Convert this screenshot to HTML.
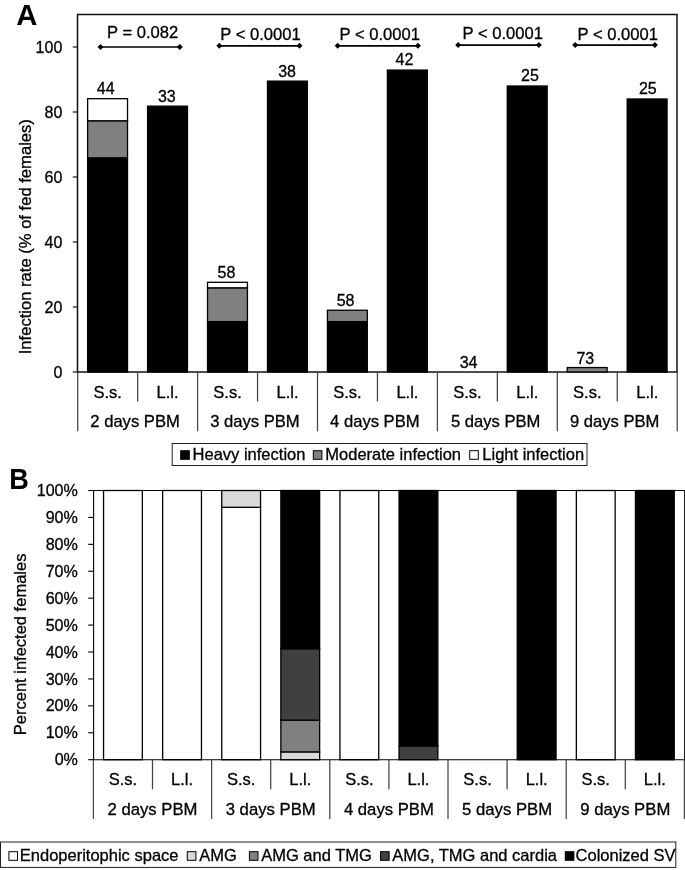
<!DOCTYPE html>
<html lang="en"><head><meta charset="utf-8"><title>Figure</title>
<style>html,body{margin:0;padding:0;background:#fff}svg{display:block}</style>
</head><body>
<svg width="685" height="870" viewBox="0 0 685 870" font-family='"Liberation Sans", Arial, Helvetica, sans-serif' fill="#000">
<rect x="0" y="0" width="685" height="870" fill="#fff"/>
<text x="16.20" y="24.60" font-size="29.3" text-anchor="start" font-weight="bold" stroke="#000" stroke-width="0" >A</text>
<rect x="77.50" y="14.50" width="599.50" height="357.50" fill="none" stroke="#111" stroke-width="1.5"/>
<line x1="72.80" y1="372.00" x2="77.50" y2="372.00" stroke="#000" stroke-width="1.1" />
<text x="62.30" y="377.70" font-size="16" text-anchor="end" font-weight="normal" stroke="#000" stroke-width="0.3" >0</text>
<line x1="72.80" y1="307.00" x2="77.50" y2="307.00" stroke="#000" stroke-width="1.1" />
<text x="62.30" y="312.70" font-size="16" text-anchor="end" font-weight="normal" stroke="#000" stroke-width="0.3" >20</text>
<line x1="72.80" y1="242.00" x2="77.50" y2="242.00" stroke="#000" stroke-width="1.1" />
<text x="62.30" y="247.70" font-size="16" text-anchor="end" font-weight="normal" stroke="#000" stroke-width="0.3" >40</text>
<line x1="72.80" y1="177.00" x2="77.50" y2="177.00" stroke="#000" stroke-width="1.1" />
<text x="62.30" y="182.70" font-size="16" text-anchor="end" font-weight="normal" stroke="#000" stroke-width="0.3" >60</text>
<line x1="72.80" y1="112.00" x2="77.50" y2="112.00" stroke="#000" stroke-width="1.1" />
<text x="62.30" y="117.70" font-size="16" text-anchor="end" font-weight="normal" stroke="#000" stroke-width="0.3" >80</text>
<line x1="72.80" y1="47.00" x2="77.50" y2="47.00" stroke="#000" stroke-width="1.1" />
<text x="62.30" y="52.70" font-size="16" text-anchor="end" font-weight="normal" stroke="#000" stroke-width="0.3" >100</text>
<text x="0.00" y="0.00" font-size="16.6" text-anchor="start" font-weight="normal" stroke="#000" stroke-width="0.3" transform="translate(31,354.3) rotate(-90)">Infection rate (% of fed females)</text>
<rect x="87.62" y="157.82" width="39.90" height="214.18" fill="#000" stroke="#000" stroke-width="1.3"/>
<rect x="87.62" y="120.78" width="39.90" height="37.05" fill="#808080" stroke="#000" stroke-width="1.3"/>
<rect x="87.62" y="98.68" width="39.90" height="22.10" fill="#fff" stroke="#000" stroke-width="1.3"/>
<text x="105.67" y="94.08" font-size="16" text-anchor="middle" font-weight="normal" stroke="#000" stroke-width="0.3" >44</text>
<rect x="147.58" y="106.15" width="39.90" height="265.85" fill="#000" stroke="#000" stroke-width="1.3"/>
<text x="166.83" y="101.55" font-size="16" text-anchor="middle" font-weight="normal" stroke="#000" stroke-width="0.3" >33</text>
<rect x="207.53" y="321.62" width="39.90" height="50.38" fill="#000" stroke="#000" stroke-width="1.3"/>
<rect x="207.53" y="287.82" width="39.90" height="33.80" fill="#808080" stroke="#000" stroke-width="1.3"/>
<rect x="207.53" y="282.30" width="39.90" height="5.52" fill="#fff" stroke="#000" stroke-width="1.3"/>
<text x="226.47" y="277.70" font-size="16" text-anchor="middle" font-weight="normal" stroke="#000" stroke-width="0.3" >58</text>
<rect x="267.47" y="81.12" width="39.90" height="290.88" fill="#000" stroke="#000" stroke-width="1.3"/>
<text x="287.07" y="76.53" font-size="16" text-anchor="middle" font-weight="normal" stroke="#000" stroke-width="0.3" >38</text>
<rect x="327.42" y="321.62" width="39.90" height="50.38" fill="#000" stroke="#000" stroke-width="1.3"/>
<rect x="327.42" y="310.25" width="39.90" height="11.38" fill="#808080" stroke="#000" stroke-width="1.3"/>
<text x="345.57" y="305.65" font-size="16" text-anchor="middle" font-weight="normal" stroke="#000" stroke-width="0.3" >58</text>
<rect x="387.38" y="70.07" width="39.90" height="301.93" fill="#000" stroke="#000" stroke-width="1.3"/>
<text x="404.48" y="65.47" font-size="16" text-anchor="middle" font-weight="normal" stroke="#000" stroke-width="0.3" >42</text>
<text x="468.57" y="368.30" font-size="16" text-anchor="middle" font-weight="normal" stroke="#000" stroke-width="0.3" >34</text>
<rect x="507.27" y="86.00" width="39.90" height="286.00" fill="#000" stroke="#000" stroke-width="1.3"/>
<text x="530.02" y="81.40" font-size="16" text-anchor="middle" font-weight="normal" stroke="#000" stroke-width="0.3" >25</text>
<rect x="567.23" y="367.55" width="39.90" height="4.45" fill="#808080" stroke="#000" stroke-width="1.3"/>
<text x="585.38" y="364.35" font-size="16" text-anchor="middle" font-weight="normal" stroke="#000" stroke-width="0.3" >73</text>
<rect x="627.17" y="99.00" width="39.90" height="273.00" fill="#000" stroke="#000" stroke-width="1.3"/>
<text x="647.83" y="94.40" font-size="16" text-anchor="middle" font-weight="normal" stroke="#000" stroke-width="0.3" >25</text>
<line x1="100.50" y1="47.00" x2="179.80" y2="47.00" stroke="#000" stroke-width="1.7" />
<path d="M97.50,47.00 L100.50,44.00 L103.50,47.00 L100.50,50.00Z" fill="#000"/>
<path d="M176.80,47.00 L179.80,44.00 L182.80,47.00 L179.80,50.00Z" fill="#000"/>
<text x="107.00" y="37.80" font-size="16.6" text-anchor="start" font-weight="normal" stroke="#000" stroke-width="0.3" >P = 0.082</text>
<line x1="219.30" y1="45.80" x2="299.50" y2="45.80" stroke="#000" stroke-width="1.7" />
<path d="M216.30,45.80 L219.30,42.80 L222.30,45.80 L219.30,48.80Z" fill="#000"/>
<path d="M296.50,45.80 L299.50,42.80 L302.50,45.80 L299.50,48.80Z" fill="#000"/>
<text x="220.30" y="39.60" font-size="16.6" text-anchor="start" font-weight="normal" stroke="#000" stroke-width="0.3" >P &lt; 0.0001</text>
<line x1="337.70" y1="45.80" x2="417.90" y2="45.80" stroke="#000" stroke-width="1.7" />
<path d="M334.70,45.80 L337.70,42.80 L340.70,45.80 L337.70,48.80Z" fill="#000"/>
<path d="M414.90,45.80 L417.90,42.80 L420.90,45.80 L417.90,48.80Z" fill="#000"/>
<text x="339.50" y="40.20" font-size="16.6" text-anchor="start" font-weight="normal" stroke="#000" stroke-width="0.3" >P &lt; 0.0001</text>
<line x1="458.20" y1="45.10" x2="538.80" y2="45.10" stroke="#000" stroke-width="1.7" />
<path d="M455.20,45.10 L458.20,42.10 L461.20,45.10 L458.20,48.10Z" fill="#000"/>
<path d="M535.80,45.10 L538.80,42.10 L541.80,45.10 L538.80,48.10Z" fill="#000"/>
<text x="462.60" y="38.90" font-size="16.6" text-anchor="start" font-weight="normal" stroke="#000" stroke-width="0.3" >P &lt; 0.0001</text>
<line x1="575.20" y1="45.10" x2="654.90" y2="45.10" stroke="#000" stroke-width="1.7" />
<path d="M572.20,45.10 L575.20,42.10 L578.20,45.10 L575.20,48.10Z" fill="#000"/>
<path d="M651.90,45.10 L654.90,42.10 L657.90,45.10 L654.90,48.10Z" fill="#000"/>
<text x="577.60" y="40.20" font-size="16.6" text-anchor="start" font-weight="normal" stroke="#000" stroke-width="0.3" >P &lt; 0.0001</text>
<line x1="77.70" y1="372.00" x2="77.70" y2="431.30" stroke="#444" stroke-width="1.25" />
<line x1="137.65" y1="372.00" x2="137.65" y2="401.50" stroke="#444" stroke-width="1.25" />
<line x1="197.60" y1="372.00" x2="197.60" y2="431.30" stroke="#444" stroke-width="1.25" />
<line x1="257.55" y1="372.00" x2="257.55" y2="401.50" stroke="#444" stroke-width="1.25" />
<line x1="317.50" y1="372.00" x2="317.50" y2="431.30" stroke="#444" stroke-width="1.25" />
<line x1="377.45" y1="372.00" x2="377.45" y2="401.50" stroke="#444" stroke-width="1.25" />
<line x1="437.40" y1="372.00" x2="437.40" y2="431.30" stroke="#444" stroke-width="1.25" />
<line x1="497.35" y1="372.00" x2="497.35" y2="401.50" stroke="#444" stroke-width="1.25" />
<line x1="557.30" y1="372.00" x2="557.30" y2="431.30" stroke="#444" stroke-width="1.25" />
<line x1="617.25" y1="372.00" x2="617.25" y2="401.50" stroke="#444" stroke-width="1.25" />
<line x1="677.20" y1="372.00" x2="677.20" y2="431.30" stroke="#444" stroke-width="1.25" />
<text x="107.67" y="397.60" font-size="16.5" text-anchor="middle" font-weight="normal" stroke="#000" stroke-width="0.3" >S.s.</text>
<text x="167.62" y="397.60" font-size="16.5" text-anchor="middle" font-weight="normal" stroke="#000" stroke-width="0.3" >L.l.</text>
<text x="227.57" y="397.60" font-size="16.5" text-anchor="middle" font-weight="normal" stroke="#000" stroke-width="0.3" >S.s.</text>
<text x="287.52" y="397.60" font-size="16.5" text-anchor="middle" font-weight="normal" stroke="#000" stroke-width="0.3" >L.l.</text>
<text x="347.48" y="397.60" font-size="16.5" text-anchor="middle" font-weight="normal" stroke="#000" stroke-width="0.3" >S.s.</text>
<text x="407.43" y="397.60" font-size="16.5" text-anchor="middle" font-weight="normal" stroke="#000" stroke-width="0.3" >L.l.</text>
<text x="467.38" y="397.60" font-size="16.5" text-anchor="middle" font-weight="normal" stroke="#000" stroke-width="0.3" >S.s.</text>
<text x="527.33" y="397.60" font-size="16.5" text-anchor="middle" font-weight="normal" stroke="#000" stroke-width="0.3" >L.l.</text>
<text x="587.28" y="397.60" font-size="16.5" text-anchor="middle" font-weight="normal" stroke="#000" stroke-width="0.3" >S.s.</text>
<text x="647.22" y="397.60" font-size="16.5" text-anchor="middle" font-weight="normal" stroke="#000" stroke-width="0.3" >L.l.</text>
<text x="135.05" y="426.80" font-size="16.6" text-anchor="middle" font-weight="normal" stroke="#000" stroke-width="0.3" >2 days PBM</text>
<text x="254.95" y="426.80" font-size="16.6" text-anchor="middle" font-weight="normal" stroke="#000" stroke-width="0.3" >3 days PBM</text>
<text x="374.85" y="426.80" font-size="16.6" text-anchor="middle" font-weight="normal" stroke="#000" stroke-width="0.3" >4 days PBM</text>
<text x="495.65" y="426.80" font-size="16.6" text-anchor="middle" font-weight="normal" stroke="#000" stroke-width="0.3" >5 days PBM</text>
<text x="614.65" y="426.80" font-size="16.6" text-anchor="middle" font-weight="normal" stroke="#000" stroke-width="0.3" >9 days PBM</text>
<rect x="172.20" y="443.50" width="414.80" height="22.00" fill="#fff" stroke="#222" stroke-width="1"/>
<rect x="180.70" y="450.70" width="8.60" height="8.60" fill="#000" stroke="#000" stroke-width="1"/>
<text x="192.60" y="459.80" font-size="16.5" text-anchor="start" font-weight="normal" stroke="#000" stroke-width="0.3" >Heavy infection</text>
<rect x="313.30" y="450.70" width="8.60" height="8.60" fill="#808080" stroke="#000" stroke-width="1"/>
<text x="325.30" y="459.80" font-size="16.5" text-anchor="start" font-weight="normal" stroke="#000" stroke-width="0.3" >Moderate infection</text>
<rect x="469.70" y="450.70" width="8.60" height="8.60" fill="#fff" stroke="#000" stroke-width="1"/>
<text x="482.30" y="459.80" font-size="16.5" text-anchor="start" font-weight="normal" stroke="#000" stroke-width="0.3" >Light infection</text>
<text x="0.00" y="0.00" font-size="29.3" text-anchor="start" font-weight="bold" stroke="#000" stroke-width="0" transform="translate(9.3,488.7) scale(0.925,1)">B</text>
<rect x="103.55" y="490.50" width="38.80" height="269.20" fill="#fff" stroke="#000" stroke-width="1.3"/>
<rect x="162.65" y="490.50" width="38.80" height="269.20" fill="#fff" stroke="#000" stroke-width="1.3"/>
<rect x="221.75" y="507.33" width="38.80" height="252.38" fill="#fff" stroke="#000" stroke-width="1.3"/>
<rect x="221.75" y="490.50" width="38.80" height="16.83" fill="#d9d9d9" stroke="#000" stroke-width="1.3"/>
<rect x="280.85" y="751.89" width="38.80" height="7.81" fill="#d9d9d9" stroke="#000" stroke-width="1.3"/>
<rect x="280.85" y="720.13" width="38.80" height="31.77" fill="#808080" stroke="#000" stroke-width="1.3"/>
<rect x="280.85" y="648.79" width="38.80" height="71.34" fill="#404040" stroke="#000" stroke-width="1.3"/>
<rect x="280.85" y="490.50" width="38.80" height="158.29" fill="#000" stroke="#000" stroke-width="1.3"/>
<rect x="339.95" y="490.50" width="38.80" height="269.20" fill="#fff" stroke="#000" stroke-width="1.3"/>
<rect x="399.05" y="745.97" width="38.80" height="13.73" fill="#404040" stroke="#000" stroke-width="1.3"/>
<rect x="399.05" y="490.50" width="38.80" height="255.47" fill="#000" stroke="#000" stroke-width="1.3"/>
<rect x="517.25" y="490.50" width="38.80" height="269.20" fill="#000" stroke="#000" stroke-width="1.3"/>
<rect x="576.35" y="490.50" width="38.80" height="269.20" fill="#fff" stroke="#000" stroke-width="1.3"/>
<rect x="635.45" y="490.50" width="38.80" height="269.20" fill="#000" stroke="#000" stroke-width="1.3"/>
<line x1="93.60" y1="490.50" x2="685.00" y2="490.50" stroke="#000" stroke-width="1.1" />
<line x1="93.60" y1="490.00" x2="93.60" y2="760.20" stroke="#000" stroke-width="1.1" />
<line x1="93.60" y1="759.70" x2="685.00" y2="759.70" stroke="#000" stroke-width="1.1" />
<line x1="684.60" y1="490.50" x2="684.60" y2="759.70" stroke="#000" stroke-width="1" />
<line x1="88.20" y1="759.70" x2="93.60" y2="759.70" stroke="#000" stroke-width="1.1" />
<text x="77.90" y="765.30" font-size="16.1" text-anchor="end" font-weight="normal" stroke="#000" stroke-width="0.3" >0%</text>
<line x1="88.20" y1="732.78" x2="93.60" y2="732.78" stroke="#000" stroke-width="1.1" />
<text x="77.90" y="738.38" font-size="16.1" text-anchor="end" font-weight="normal" stroke="#000" stroke-width="0.3" >10%</text>
<line x1="88.20" y1="705.86" x2="93.60" y2="705.86" stroke="#000" stroke-width="1.1" />
<text x="77.90" y="711.46" font-size="16.1" text-anchor="end" font-weight="normal" stroke="#000" stroke-width="0.3" >20%</text>
<line x1="88.20" y1="678.94" x2="93.60" y2="678.94" stroke="#000" stroke-width="1.1" />
<text x="77.90" y="684.54" font-size="16.1" text-anchor="end" font-weight="normal" stroke="#000" stroke-width="0.3" >30%</text>
<line x1="88.20" y1="652.02" x2="93.60" y2="652.02" stroke="#000" stroke-width="1.1" />
<text x="77.90" y="657.62" font-size="16.1" text-anchor="end" font-weight="normal" stroke="#000" stroke-width="0.3" >40%</text>
<line x1="88.20" y1="625.10" x2="93.60" y2="625.10" stroke="#000" stroke-width="1.1" />
<text x="77.90" y="630.70" font-size="16.1" text-anchor="end" font-weight="normal" stroke="#000" stroke-width="0.3" >50%</text>
<line x1="88.20" y1="598.18" x2="93.60" y2="598.18" stroke="#000" stroke-width="1.1" />
<text x="77.90" y="603.78" font-size="16.1" text-anchor="end" font-weight="normal" stroke="#000" stroke-width="0.3" >60%</text>
<line x1="88.20" y1="571.26" x2="93.60" y2="571.26" stroke="#000" stroke-width="1.1" />
<text x="77.90" y="576.86" font-size="16.1" text-anchor="end" font-weight="normal" stroke="#000" stroke-width="0.3" >70%</text>
<line x1="88.20" y1="544.34" x2="93.60" y2="544.34" stroke="#000" stroke-width="1.1" />
<text x="77.90" y="549.94" font-size="16.1" text-anchor="end" font-weight="normal" stroke="#000" stroke-width="0.3" >80%</text>
<line x1="88.20" y1="517.42" x2="93.60" y2="517.42" stroke="#000" stroke-width="1.1" />
<text x="77.90" y="523.02" font-size="16.1" text-anchor="end" font-weight="normal" stroke="#000" stroke-width="0.3" >90%</text>
<line x1="88.20" y1="490.50" x2="93.60" y2="490.50" stroke="#000" stroke-width="1.1" />
<text x="77.90" y="496.10" font-size="16.1" text-anchor="end" font-weight="normal" stroke="#000" stroke-width="0.3" >100%</text>
<text x="0.00" y="0.00" font-size="16.5" text-anchor="start" font-weight="normal" stroke="#000" stroke-width="0.3" transform="translate(25.6,735.2) rotate(-90)">Percent infected females</text>
<line x1="93.40" y1="759.70" x2="93.40" y2="819.00" stroke="#444" stroke-width="1.25" />
<line x1="152.50" y1="759.70" x2="152.50" y2="789.20" stroke="#444" stroke-width="1.25" />
<line x1="211.60" y1="759.70" x2="211.60" y2="819.00" stroke="#444" stroke-width="1.25" />
<line x1="270.70" y1="759.70" x2="270.70" y2="789.20" stroke="#444" stroke-width="1.25" />
<line x1="329.80" y1="759.70" x2="329.80" y2="819.00" stroke="#444" stroke-width="1.25" />
<line x1="388.90" y1="759.70" x2="388.90" y2="789.20" stroke="#444" stroke-width="1.25" />
<line x1="448.00" y1="759.70" x2="448.00" y2="819.00" stroke="#444" stroke-width="1.25" />
<line x1="507.10" y1="759.70" x2="507.10" y2="789.20" stroke="#444" stroke-width="1.25" />
<line x1="566.20" y1="759.70" x2="566.20" y2="819.00" stroke="#444" stroke-width="1.25" />
<line x1="625.30" y1="759.70" x2="625.30" y2="789.20" stroke="#444" stroke-width="1.25" />
<line x1="684.40" y1="759.70" x2="684.40" y2="819.00" stroke="#444" stroke-width="1.25" />
<text x="122.95" y="785.30" font-size="16.5" text-anchor="middle" font-weight="normal" stroke="#000" stroke-width="0.3" >S.s.</text>
<text x="182.05" y="785.30" font-size="16.5" text-anchor="middle" font-weight="normal" stroke="#000" stroke-width="0.3" >L.l.</text>
<text x="241.15" y="785.30" font-size="16.5" text-anchor="middle" font-weight="normal" stroke="#000" stroke-width="0.3" >S.s.</text>
<text x="300.25" y="785.30" font-size="16.5" text-anchor="middle" font-weight="normal" stroke="#000" stroke-width="0.3" >L.l.</text>
<text x="359.35" y="785.30" font-size="16.5" text-anchor="middle" font-weight="normal" stroke="#000" stroke-width="0.3" >S.s.</text>
<text x="418.45" y="785.30" font-size="16.5" text-anchor="middle" font-weight="normal" stroke="#000" stroke-width="0.3" >L.l.</text>
<text x="477.55" y="785.30" font-size="16.5" text-anchor="middle" font-weight="normal" stroke="#000" stroke-width="0.3" >S.s.</text>
<text x="536.65" y="785.30" font-size="16.5" text-anchor="middle" font-weight="normal" stroke="#000" stroke-width="0.3" >L.l.</text>
<text x="595.75" y="785.30" font-size="16.5" text-anchor="middle" font-weight="normal" stroke="#000" stroke-width="0.3" >S.s.</text>
<text x="654.85" y="785.30" font-size="16.5" text-anchor="middle" font-weight="normal" stroke="#000" stroke-width="0.3" >L.l.</text>
<text x="152.50" y="814.50" font-size="16.7" text-anchor="middle" font-weight="normal" stroke="#000" stroke-width="0.3" >2 days PBM</text>
<text x="270.70" y="814.50" font-size="16.7" text-anchor="middle" font-weight="normal" stroke="#000" stroke-width="0.3" >3 days PBM</text>
<text x="388.90" y="814.50" font-size="16.7" text-anchor="middle" font-weight="normal" stroke="#000" stroke-width="0.3" >4 days PBM</text>
<text x="507.10" y="814.50" font-size="16.7" text-anchor="middle" font-weight="normal" stroke="#000" stroke-width="0.3" >5 days PBM</text>
<text x="625.30" y="814.50" font-size="16.7" text-anchor="middle" font-weight="normal" stroke="#000" stroke-width="0.3" >9 days PBM</text>
<rect x="0.50" y="842.00" width="675.30" height="25.40" fill="#fff" stroke="#222" stroke-width="1"/>
<rect x="8.90" y="851.70" width="8.60" height="8.60" fill="#fff" stroke="#000" stroke-width="1"/>
<text x="19.80" y="860.80" font-size="16.5" text-anchor="start" font-weight="normal" stroke="#000" stroke-width="0.3" >Endoperitophic space</text>
<rect x="187.30" y="851.70" width="8.60" height="8.60" fill="#d9d9d9" stroke="#000" stroke-width="1"/>
<text x="199.30" y="860.80" font-size="16.5" text-anchor="start" font-weight="normal" stroke="#000" stroke-width="0.3" >AMG</text>
<rect x="249.40" y="851.70" width="8.60" height="8.60" fill="#808080" stroke="#000" stroke-width="1"/>
<text x="261.20" y="860.80" font-size="16.5" text-anchor="start" font-weight="normal" stroke="#000" stroke-width="0.3" >AMG and TMG</text>
<rect x="380.50" y="851.70" width="8.60" height="8.60" fill="#404040" stroke="#000" stroke-width="1"/>
<text x="392.30" y="860.80" font-size="16.5" text-anchor="start" font-weight="normal" stroke="#000" stroke-width="0.3" >AMG, TMG and cardia</text>
<rect x="565.30" y="851.70" width="8.60" height="8.60" fill="#000" stroke="#000" stroke-width="1"/>
<text x="575.60" y="860.80" font-size="16.5" text-anchor="start" font-weight="normal" stroke="#000" stroke-width="0.3" >Colonized SV</text>
</svg>
</body></html>
